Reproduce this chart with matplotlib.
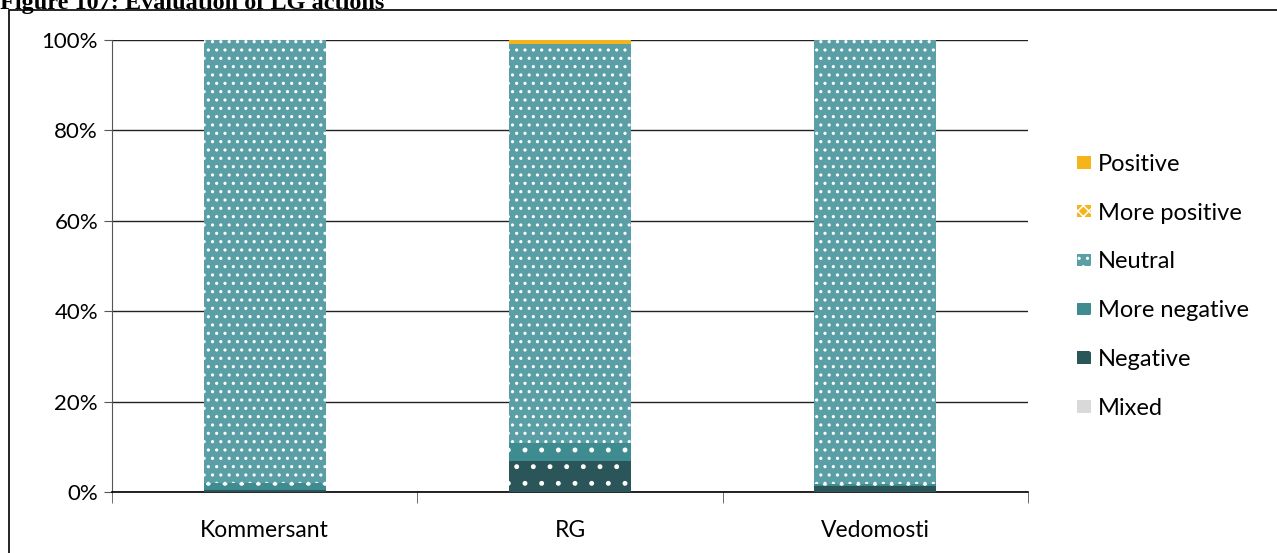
# Evaluation of LG actions - stacked 100% bars

import numpy as np
import matplotlib
matplotlib.use("Agg")
import matplotlib.pyplot as plt
from matplotlib.patches import Rectangle, Patch

plt.rcParams['font.family'] = ['Lato', 'DejaVu Sans']
plt.rcParams['hatch.linewidth'] = 1.1

# -------------------- Data --------------------
papers = ["Kommersant", "RG", "Vedomosti"]
negative = [0.4, 6.9, 1.3]
more_negative = [1.6, 4.0, 0.5]
neutral = [98.0, 88.2, 98.2]
more_positive = [0.0, 0.0, 0.0]
positive = [0.0, 0.9, 0.0]
mixed = [0.0, 0.0, 0.0]

series = [
    ("Mixed", mixed, "#d9d9d9", None),
    ("Negative", negative, "#2b5659", "."),
    ("More negative", more_negative, "#3f8c90", "."),
    ("Neutral", neutral, "#5a9ea6", ".."),
    ("More positive", more_positive, "#f5b41a", "xxx"),
    ("Positive", positive, "#f5b41a", None),
]

# -------------------- Figure --------------------
fig = plt.figure(figsize=(12.77, 5.53), dpi=100)
ax = fig.add_axes([112/1277, 61/553, (1028-112)/1277, 452/553])

x = np.arange(len(papers))
bottom = np.zeros(len(papers))
handles = []
for name, vals, color, hatch in series:
    vals = np.array(vals)
    ax.bar(x, vals, width=0.4, bottom=bottom, color=color,
           hatch=hatch, edgecolor="white" if hatch else color, linewidth=0, zorder=3)
    bottom += vals
    handles.append(Patch(facecolor=color, hatch=hatch, edgecolor="white" if hatch else color,
                         linewidth=0, label=name))

ax.set_xlim(-0.5, 2.5)
ax.set_ylim(0, 100)
ax.set_yticks(np.arange(0, 101, 20))
ax.set_yticklabels([f"{v}%" for v in range(0, 101, 20)], fontsize=16)
ax.set_xticks(x)
ax.set_xticklabels(papers, fontsize=16.5)
ax.set_xticks([-0.5, 0.5, 1.5, 2.5], minor=True)
ax.tick_params(axis="x", which="major", length=0, pad=20)
ax.tick_params(axis="x", which="minor", length=8, color="#555555")
ax.tick_params(axis="y", length=6, color="#555555", pad=4)
ax.grid(axis="y", color="#222222", linewidth=1, zorder=0)
for s in ["top", "right"]:
    ax.spines[s].set_visible(False)
ax.spines["left"].set_color("#555555")
ax.spines["bottom"].set_color("black")
ax.spines["bottom"].set_linewidth(1.2)

leg = ax.legend(handles[::-1], [h.get_label() for h in handles[::-1]],
                loc="center left", bbox_to_anchor=(1.03, 0.455), frameon=False,
                fontsize=17, handlelength=0.6, handleheight=0.45,
                handletextpad=0.3, labelspacing=1.18)

# outer border and (clipped) caption
fig.patches.append(Rectangle((9/1277, -0.01), 1.0, 1 - 10/553 + 0.01, transform=fig.transFigure,
                             fill=False, edgecolor="black", linewidth=1.2))
fig.text(0.0, 1 - 9/553, "Figure 107: Evaluation of LG actions", family="Liberation Serif",
         fontweight="bold", fontsize=17.5, va="baseline", ha="left")

plt.savefig("out.png", dpi=100)
